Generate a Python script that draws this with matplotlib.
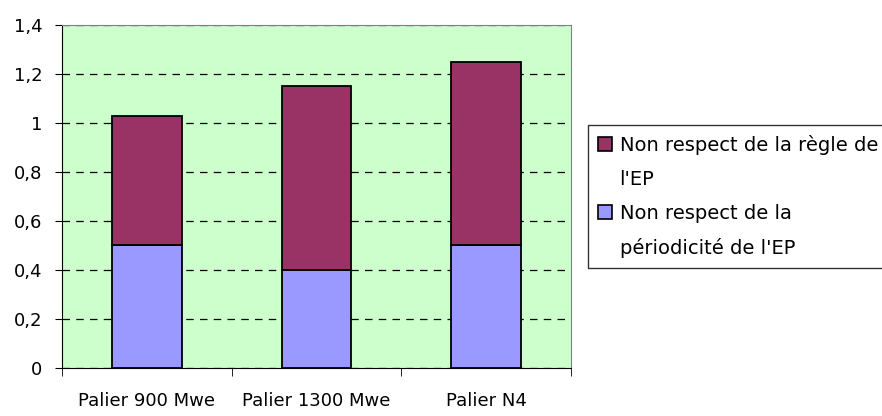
import matplotlib
matplotlib.use("Agg")
import matplotlib.pyplot as plt
from matplotlib.patches import Patch
from matplotlib.ticker import FuncFormatter

categories = ["Palier 900 Mwe", "Palier 1300 Mwe", "Palier N4"]
periodicite = [0.5, 0.4, 0.5]
regle = [0.53, 0.75, 0.75]
legend_lines = [
    ["Non respect de la règle de", "l'EP"],
    ["Non respect de la", "périodicité de l'EP"],
]
colors = ["#9999ff", "#993366"]

plt.rcParams["font.family"] = ["DejaVu Sans"]
plt.rcParams["font.size"] = 13

fig = plt.figure(figsize=(8.82, 4.16), dpi=100)
ax = fig.add_axes([0.0703, 0.1154, 0.5771, 0.8246])
ax.set_facecolor("#ccffcc")

x = list(range(len(categories)))
ax.bar(x, periodicite, width=0.41, color=colors[0], edgecolor="black", linewidth=1.3, zorder=3)
ax.bar(x, regle, width=0.41, bottom=periodicite, color=colors[1], edgecolor="black", linewidth=1.3, zorder=3)

ax.set_xlim(-0.5, 2.5)
ax.set_ylim(0, 1.4)
ax.set_yticks([0, 0.2, 0.4, 0.6, 0.8, 1.0, 1.2, 1.4])
ax.yaxis.set_major_formatter(FuncFormatter(lambda v, p: f"{v:g}".replace(".", ",")))
ax.grid(axis="y", color="black", linestyle=(0, (6, 5)), linewidth=0.9, zorder=1)

ax.set_xticks(x)
ax.set_xticklabels(categories)
ax.tick_params(axis="x", which="major", length=0, pad=17)
ax.set_xticks([-0.5, 0.5, 1.5, 2.5], minor=True)
ax.tick_params(axis="x", which="minor", length=6, direction="out", color="black")
ax.tick_params(axis="y", length=5, direction="out", pad=9)

for side in ["top", "right"]:
    ax.spines[side].set_color("#808080")
for side in ["left", "bottom"]:
    ax.spines[side].set_color("black")

# one legend row per text line, so the swatch sits on the first line
handles = []
texts = []
for color, lines in zip([colors[1], colors[0]], legend_lines):
    handles.append(Patch(facecolor=color, edgecolor="black", linewidth=1.2))
    texts.append(lines[0])
    for line in lines[1:]:
        handles.append(Patch(facecolor="none", edgecolor="none"))
        texts.append(line)

leg = fig.legend(handles=handles, labels=texts,
                 loc="upper left", bbox_to_anchor=(0.6667, 0.6995),
                 frameon=True, fancybox=False, edgecolor="black",
                 handlelength=0.72, handleheight=0.72, handletextpad=0.4,
                 labelspacing=0.78, borderpad=0.5, borderaxespad=0, fontsize=14)
leg.get_frame().set_linewidth(1.0)

fig.savefig("out.png", dpi=100)
